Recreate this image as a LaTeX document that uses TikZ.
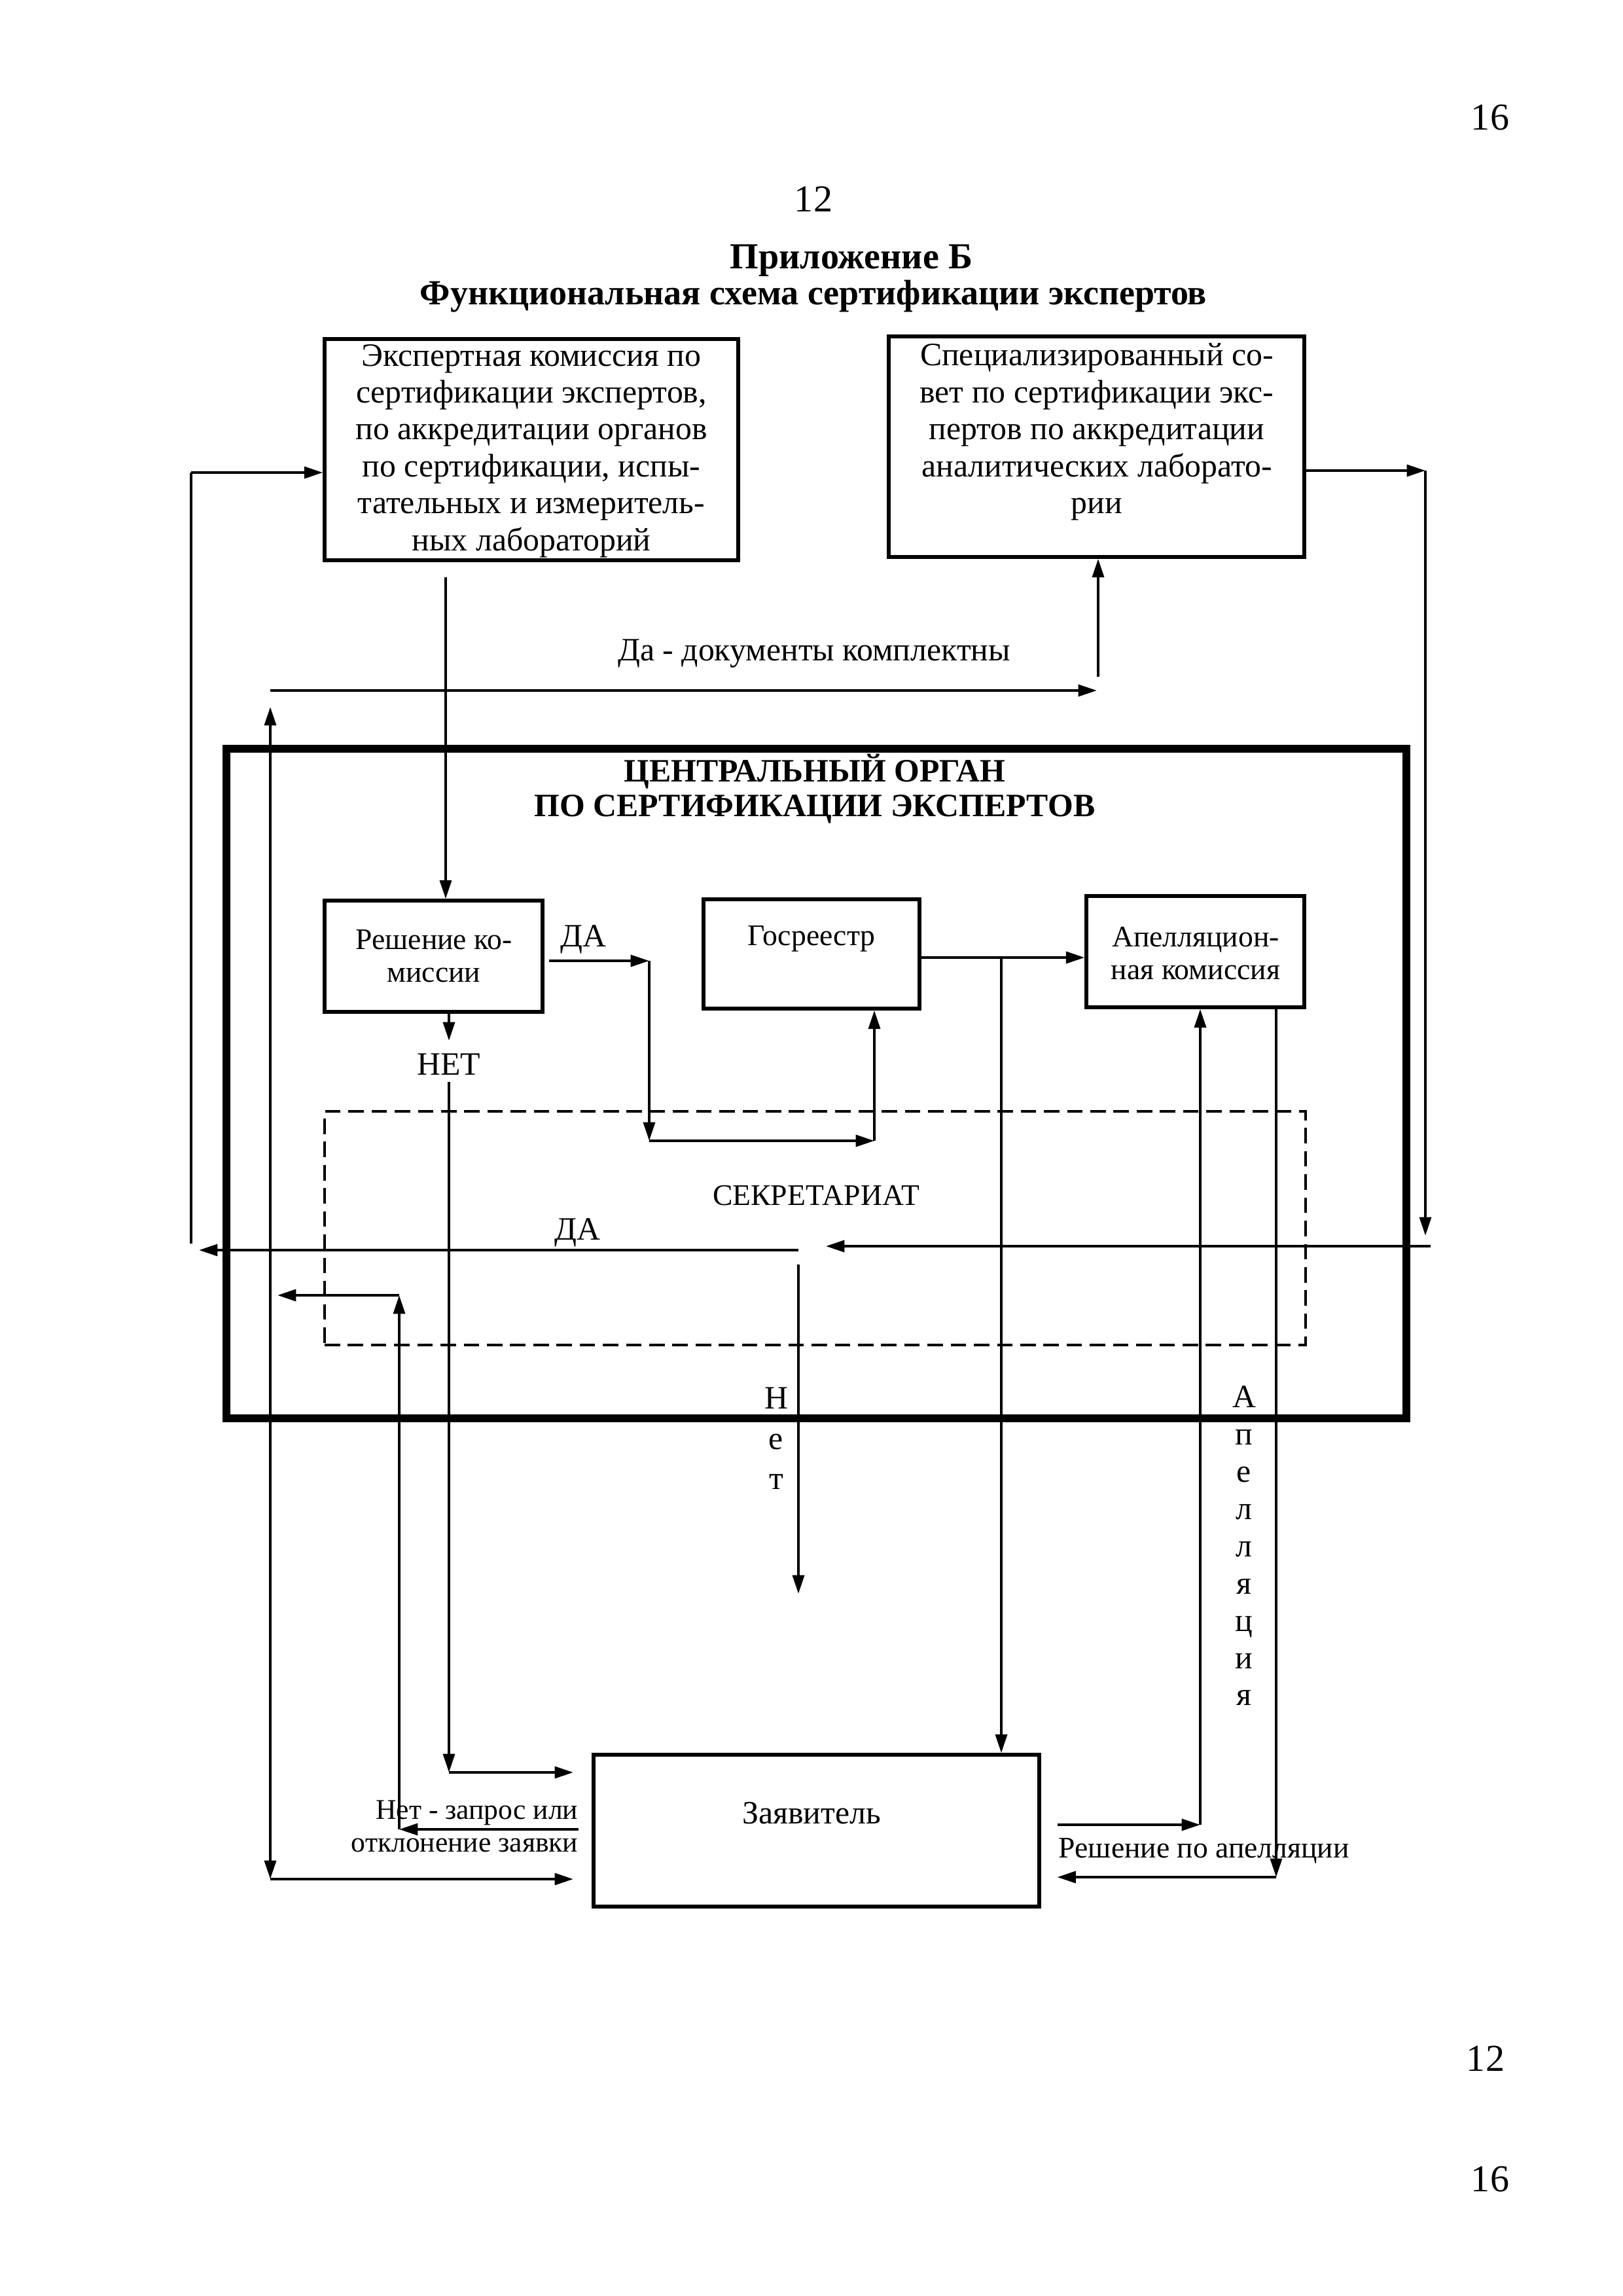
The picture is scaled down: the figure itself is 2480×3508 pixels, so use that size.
\documentclass[tikz,border=0pt]{standalone}
\usepackage{fontspec}
\setmainfont{Liberation Serif}
\usetikzlibrary{arrows.meta,fit}
\newcommand\myfs[2]{\fontsize{#1}{#2}\selectfont}
\begin{document}
\begin{tikzpicture}[x=0.084667mm,y=-0.084667mm,
  box/.style={draw, line width=1.3pt, inner sep=0pt},
  ln/.style={line width=1pt},
  arr/.style={line width=1pt, -{Triangle[length=2.4mm,width=1.5mm]}},
  arrtwo/.style={line width=1pt, {Triangle[length=2.4mm,width=1.5mm]}-{Triangle[length=2.4mm,width=1.5mm]}},
  txt/.style={inner sep=0pt, align=center, font=\myfs{12}{13.6}},
  stxt/.style={inner sep=0pt, align=center, font=\myfs{11}{12}},
  lbl/.style={inner sep=0pt, font=\myfs{12}{14}}]
\fill[white] (0,0) rectangle (2480,3508);
\useasboundingbox (0,0) rectangle (2480,3508);

% page numbers and titles
\node[lbl, font=\myfs{14}{16}] (pn1) at (2277,180) {16};
\node[lbl, font=\myfs{14}{16}] (pn2) at (1243,304) {12};
\node[lbl, font=\bfseries\myfs{13.5}{16}] (tt1) at (1301,398) {Приложение Б};
\node[lbl, font=\bfseries\myfs{13}{16}] (tt2) at (1243,453) {Функциональная схема сертификации экспертов};
\node[lbl, font=\myfs{14}{16}] (pn3) at (2270,3145) {12};
\node[lbl, font=\myfs{14}{16}] (pn4) at (2277,3330) {16};

% top boxes
\node[box, fit={(496,518)(1128,856)}] (b1) {};
\node[txt] (b1t) at (812,689) {Экспертная комиссия по\\сертификации экспертов,\\по аккредитации органов\\по сертификации, испы-\\тательных и измеритель-\\ных лабораторий};
\node[box, fit={(1358,514)(1993,851)}] (b2) {};
\node[txt] (b2t) at (1676,660) {Специализированный со-\\вет по сертификации экс-\\пертов по аккредитации\\аналитических лаборато-\\рии};

% central organ
\node[draw, line width=2.8pt, inner sep=0pt, fit={(346,1144)(2149,2167)}] (co) {};
\node[inner sep=0pt, align=center, font=\bfseries\myfs{12}{12.6}] (cot) at (1245,1205) {ЦЕНТРАЛЬНЫЙ ОРГАН\\ПО СЕРТИФИКАЦИИ ЭКСПЕРТОВ};

\node[draw, line width=1.1pt, dash pattern=on 2mm off 1mm, inner sep=0pt, fit={(496,1698)(1995,2055)}] (sec) {};
\node[lbl, font=\myfs{11}{13}] (sect) at (1247,1827) {СЕКРЕТАРИАТ};

\node[box, fit={(496,1376)(829,1546)}] (rk) {};
\node[stxt] (rkt) at (663,1461) {Решение ко-\\миссии};
\node[box, fit={(1075,1374)(1405,1541)}] (gr) {};
\node[lbl, font=\myfs{11}{13}] (grt) at (1240,1434) {Госреестр};
\node[box, fit={(1660,1369)(1993,1539)}] (ap) {};
\node[stxt] (apt) at (1827,1457) {Апелляцион-\\ная комиссия};

\node[box, fit={(907,2681)(1588,2913)}] (zv) {};
\node[lbl] (zvt) at (1240,2770) {Заявитель};

% left loop to b1
\coordinate (L1) at (292,1900);
\coordinate (L2) at (292,722);
\draw[ln] (L1) -- (L2);
\draw[arr] (L2) -- (L2 -| b1.west);

% DA left from secretariat
\coordinate (S0) at (1220,1910);
\coordinate (S1) at (304,1910);
\draw[arr] (S0) -- (S1);
\node[lbl] (dal) at (882,1883) {ДА};

% documents complete
\coordinate (D1) at (413,1055);
\coordinate (D2) at (1676,1055);
\draw[arr] (D1) -- (D2);
\coordinate (D3) at (1678,1034);
\draw[arr] (D3) -- (D3 |- b2.south);
\node[lbl] (dok) at (1244,999) {Да - документы комплектны};

\coordinate (V1) at (413,1080);
\coordinate (V2) at (413,2871);
\draw[arrtwo] (V1) -- (V2);
\draw[arr, shorten >=2.4mm] (V2) -- (V2 -| zv.west);

% b1 -> decision
\coordinate (K1) at (681,882);
\draw[arr] (K1) -- (K1 |- rk.north);

% DA to registry
\coordinate (A1) at (992,1468);
\coordinate (A2) at (992,1743);
\coordinate (A3) at (1336,1743);
\draw[arr, shorten <=0.6mm] (A1 -| rk.east) -- (A1);
\draw[arr] (A1) -- (A2);
\draw[arr] (A2) -- (A3);
\draw[arr] (A3) -- (A3 |- gr.south);
\node[lbl] (dar) at (891,1435) {ДА};

% NET
\coordinate (N1) at (686,1590);
\draw[arr] (N1 |- rk.south) -- (N1);
\node[lbl] (net) at (686,1626) {НЕТ};
\coordinate (N2) at (686,1653);
\coordinate (N3) at (686,2708);
\draw[arr] (N2) -- (N3);
\draw[arr, shorten >=2.4mm] (N3) -- (N3 -| zv.west);

% registry -> appeal, -> applicant
\coordinate (G1) at (1530,1463);
\draw[arr] (G1 -| gr.east) -- (G1 -| ap.west);
\draw[arr] (G1) -- (G1 |- zv.north);

% appeal loop
\coordinate (P1) at (1834,2788);
\draw[arr, shorten <=2.1mm] (P1 -| zv.east) -- (P1);
\draw[arr] (P1) -- (P1 |- ap.south);
\coordinate (P2) at (1950,2868);
\draw[arr] (P2 |- ap.south) -- (P2);
\draw[arr, shorten >=2.1mm] (P2) -- (P2 -| zv.east);
\node[lbl, anchor=west, font=\myfs{11}{13}] (rpa) at (1617,2828) {Решение по апелляции};
\node[inner sep=0pt, align=center, font=\myfs{12}{13.7}] (apv) at (1901,2362) {А\\п\\е\\л\\л\\я\\ц\\и\\я};

% right loop from b2
\coordinate (R1) at (2178,719);
\draw[arr] (R1 -| b2.east) -- (R1);
\coordinate (R2) at (2178,1888);
\draw[arr] (R1) -- (R2);
\coordinate (R3) at (2186,1904);
\coordinate (R4) at (1262,1904);
\draw[arr] (R3) -- (R4);

% NET down
\coordinate (T1) at (1220,1932);
\coordinate (T2) at (1220,2435);
\draw[arr] (T1) -- (T2);
\node[inner sep=0pt, align=center, font=\myfs{12}{14.8}] (netv) at (1186,2198) {Н\\е\\т};

% request / rejection
\coordinate (Q1) at (610,2795);
\draw[arr, shorten <=1.7mm] (Q1 -| zv.west) -- (Q1);
\coordinate (Q2) at (610,1979);
\draw[arr] (Q1) -- (Q2);
\coordinate (Q3) at (424,1979);
\draw[arr] (Q2) -- (Q3);
\node[lbl, anchor=east, font=\myfs{10.5}{12}] (zq1) at (884,2770) {Нет - запрос или};
\node[lbl, anchor=east, font=\myfs{10.5}{12}] (zq2) at (884,2819) {отклонение заявки};
\end{tikzpicture}
\end{document}
